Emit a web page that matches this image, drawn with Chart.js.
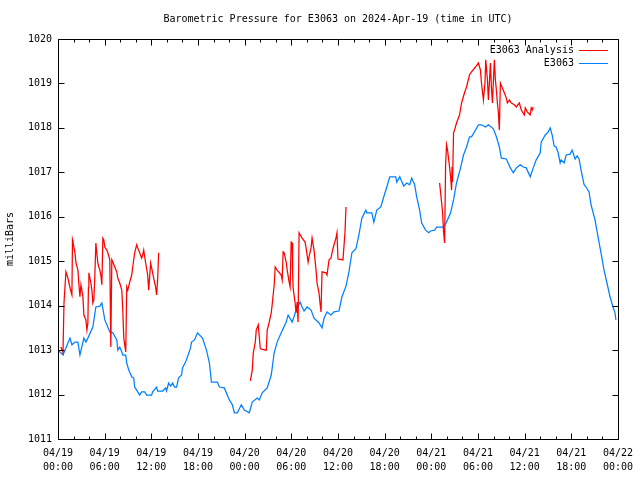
<!DOCTYPE html>
<html><head><meta charset="utf-8">
<script src="https://cdn.jsdelivr.net/npm/chart.js@4/dist/chart.umd.min.js"></script>
<style>html,body{margin:0;padding:0;background:#fff;overflow:hidden}</style>
</head><body><canvas id="c" width="640" height="480"></canvas>
<script>
const FONT = "'DejaVu Sans Mono', 'Liberation Mono', monospace";
const titleText = 'Barometric Pressure for E3063 on 2024-Apr-19 (time in UTC)';
const yAxisLabel = 'milliBars';
const seriesNames = ['E3063 Analysis', 'E3063'];
const seriesColors = ['#ff0000', '#0080ff'];

// x tick labels (hours since 04/19 00:00 UTC)
const majorTickHours = [0, 6, 12, 18, 24, 30, 36, 42, 48, 54, 60, 66, 72];
const tickDates = ['04/19','04/19','04/19','04/19','04/20','04/20','04/20','04/20','04/21','04/21','04/21','04/21','04/22'];
const tickTimes = ['00:00','06:00','12:00','18:00','00:00','06:00','12:00','18:00','00:00','06:00','12:00','18:00','00:00'];
const minorTickStepHours = 2;
const yTickValues = [1011,1012,1013,1014,1015,1016,1017,1018,1019,1020];

// E3063 observed (hours, mBar)
const obsHours = [0,0.64,1.02,1.54,1.79,2.18,2.56,2.82,3.33,3.59,
3.84,4.48,4.87,5.38,5.64,6.02,6.66,7.05,7.56,7.69,
7.94,8.20,8.33,8.71,8.84,9.10,9.48,9.74,9.86,10.12,
10.25,10.50,10.76,11.15,11.40,12.04,12.17,12.68,12.81,13.45,
13.84,13.96,14.22,14.48,14.73,14.99,15.25,15.50,15.89,16.01,
16.40,16.65,17.04,17.17,17.55,17.94,18.58,19.09,19.47,19.73,
20.50,20.75,21.39,22.03,22.42,22.68,23.06,23.57,23.96,24.60,
24.98,25.62,25.88,26.26,26.90,27.42,27.80,28.18,28.70,29.34,
29.59,30.11,30.62,31.13,31.39,31.64,32.03,32.54,32.92,33.56,
33.95,34.21,34.59,35.10,35.49,36.13,36.51,37.03,37.41,37.79,
38.31,38.69,39.07,39.59,39.71,40.35,40.61,40.99,41.51,41.89,
42.28,42.66,43.43,43.56,43.94,44.45,44.84,45.22,45.48,45.86,
46.12,46.50,46.76,47.27,47.66,47.91,48.43,48.68,49.58,49.96,
50.48,50.86,51.24,51.76,52.14,52.53,52.91,53.17,53.68,54.06,
54.45,54.96,55.34,55.98,56.37,56.75,57.01,57.65,58.16,58.55,
58.93,59.44,59.83,60.21,60.72,61.11,61.49,62.01,62.13,62.65,
63.03,63.29,63.54,63.80,64.05,64.31,64.57,64.70,65.08,65.34,
65.85,66.11,66.49,66.75,67.00,67.26,67.65,67.90,68.28,68.54,
69.05,69.44,69.82,70.21,70.59,70.98,71.36,71.62,71.74];
const obsValues = [1013.00,1012.89,1013.05,1013.27,1013.12,1013.18,1013.18,1012.89,1013.27,1013.18,
1013.27,1013.52,1013.97,1013.99,1014.06,1013.68,1013.41,1013.39,1013.23,1013.00,
1013.07,1012.96,1012.89,1012.89,1012.71,1012.55,1012.40,1012.37,1012.17,1012.10,
1012.06,1011.99,1012.06,1012.06,1011.99,1011.99,1012.06,1012.17,1012.08,1012.08,
1012.15,1012.08,1012.26,1012.19,1012.26,1012.17,1012.17,1012.37,1012.44,1012.60,
1012.73,1012.85,1013.05,1013.18,1013.23,1013.39,1013.27,1013.00,1012.71,1012.28,
1012.28,1012.17,1012.15,1011.88,1011.77,1011.59,1011.59,1011.77,1011.65,1011.59,
1011.83,1011.92,1011.88,1012.04,1012.15,1012.44,1012.94,1013.18,1013.39,1013.63,
1013.79,1013.63,1013.90,1014.08,1013.97,1013.88,1013.97,1013.90,1013.72,1013.61,
1013.50,1013.72,1013.86,1013.79,1013.86,1013.88,1014.20,1014.44,1014.76,1015.19,
1015.28,1015.59,1015.97,1016.15,1016.09,1016.09,1015.88,1016.15,1016.22,1016.45,
1016.67,1016.90,1016.90,1016.78,1016.90,1016.69,1016.76,1016.72,1016.87,1016.72,
1016.45,1016.15,1015.86,1015.70,1015.64,1015.68,1015.70,1015.77,1015.77,1015.88,
1016.09,1016.38,1016.76,1017.10,1017.39,1017.57,1017.80,1017.80,1017.95,1018.07,
1018.07,1018.02,1018.07,1017.98,1017.80,1017.57,1017.32,1017.30,1017.10,1016.99,
1017.10,1017.17,1017.12,1017.10,1016.90,1017.10,1017.28,1017.44,1017.68,1017.84,
1017.91,1018.00,1017.84,1017.59,1017.57,1017.44,1017.21,1017.28,1017.21,1017.39,
1017.41,1017.50,1017.30,1017.37,1017.30,1017.05,1016.72,1016.67,1016.56,1016.27,
1015.93,1015.55,1015.19,1014.80,1014.51,1014.20,1013.97,1013.84,1013.68];

// E3063 Analysis, three runs
const anaHours1 = [0.38,0.64,0.77,1.02,1.28,1.41,1.67,1.79,1.86,1.92,
2.18,2.31,2.56,2.69,2.82,2.95,3.07,3.20,3.33,3.59,
3.72,3.84,3.91,3.97,4.23,4.36,4.48,4.61,4.74,4.87,
4.99,5.12,5.25,5.38,5.51,5.64,5.77,5.89,6.02,6.28,
6.41,6.66,6.79,6.92,7.05,7.30,7.56,7.69,7.94,8.20,
8.33,8.46,8.71,8.84,8.97,9.22,9.48,9.61,9.86,10.12,
10.25,10.50,10.76,10.89,11.02,11.27,11.53,11.66,11.91,12.04,
12.30,12.55,12.68,12.81,12.94];
const anaValues1 = [1013.07,1012.94,1014.06,1014.76,1014.62,1014.51,1014.31,1014.24,1015.48,1015.43,
1015.19,1014.96,1014.80,1014.47,1014.20,1014.47,1014.35,1014.20,1013.79,1013.68,
1013.45,1013.61,1014.40,1014.74,1014.51,1014.35,1014.06,1014.13,1014.69,1015.41,
1015.19,1014.96,1014.87,1014.80,1014.69,1014.47,1015.52,1015.48,1015.32,1015.25,
1015.19,1015.03,1013.07,1015.03,1014.98,1014.87,1014.76,1014.62,1014.51,1014.35,
1013.90,1013.27,1012.96,1014.42,1014.35,1014.53,1014.69,1014.87,1015.19,1015.37,
1015.30,1015.19,1015.07,1015.14,1015.25,1014.96,1014.69,1014.35,1014.96,1014.85,
1014.62,1014.42,1014.24,1014.58,1015.19];
const anaHours2 = [24.73,24.98,25.11,25.37,25.49,25.75,25.88,26.01,26.78,26.90,
27.16,27.42,27.54,27.80,27.93,28.18,28.70,28.83,28.95,29.08,
29.34,29.47,29.72,29.85,29.98,30.11,30.17,30.23,30.49,30.62,
30.75,30.87,31.00,31.39,31.77,31.90,32.16,32.28,32.54,32.67,
32.92,33.18,33.31,33.56,33.69,33.82,33.95,34.46,34.59,34.85,
35.10,35.23,35.49,35.74,35.87,36.00,36.64,36.90,37.03];
const anaValues2 = [1012.31,1012.55,1012.94,1013.18,1013.45,1013.57,1013.30,1013.03,1013.00,1013.45,
1013.63,1013.84,1014.02,1014.47,1014.87,1014.80,1014.69,1014.58,1015.21,1015.19,
1014.98,1014.80,1014.53,1014.42,1015.43,1015.41,1014.74,1014.40,1014.06,1013.84,
1014.08,1013.63,1015.64,1015.52,1015.43,1015.30,1014.98,1015.10,1015.30,1015.52,
1015.25,1014.80,1014.51,1014.29,1014.06,1013.86,1014.76,1014.74,1014.69,1015.03,
1015.07,1015.19,1015.37,1015.52,1015.64,1015.05,1015.03,1015.64,1016.22];
const anaHours3 = [49.07,49.32,49.45,49.58,49.71,49.84,49.96,50.09,50.35,50.48,
50.61,50.67,50.73,50.86,50.99,51.24,51.63,51.89,52.27,52.53,
52.91,53.17,53.68,54.06,54.32,54.45,54.70,54.90,55.00,55.22,
55.34,55.47,55.60,55.73,55.86,56.11,56.24,56.37,56.50,56.62,
56.75,56.88,57.14,57.39,57.65,57.78,58.04,58.29,58.68,58.93,
59.32,59.57,59.96,60.08,60.34,60.72,60.85,60.98,61.11];
const anaValues3 = [1016.76,1016.33,1016.09,1015.66,1015.41,1017.17,1017.62,1017.50,1017.12,1016.90,
1016.60,1017.12,1016.78,1017.89,1017.95,1018.11,1018.29,1018.56,1018.79,1018.92,
1019.19,1019.26,1019.37,1019.46,1019.30,1019.01,1018.63,1019.01,1019.53,1019.08,
1018.63,1019.01,1019.46,1018.92,1018.56,1019.53,1019.08,1018.85,1018.56,1018.36,
1017.95,1019.01,1018.90,1018.79,1018.67,1018.56,1018.63,1018.56,1018.52,1018.47,
1018.56,1018.40,1018.29,1018.45,1018.36,1018.29,1018.45,1018.40,1018.47];

const pts = (hs, vs) => hs.map((h, i) => ({x: h, y: vs[i]}));
const gap = h => [{x: h, y: null}];
const analysisData = [].concat(pts(anaHours1, anaValues1), gap(18), pts(anaHours2, anaValues2), gap(43), pts(anaHours3, anaValues3));
const observedData = pts(obsHours, obsValues);

const MAJ = 6, MIN = 3;
const framePlugin = {
  id: 'frame',
  afterDraw(chart) {
    const {ctx, chartArea: a, scales: {x, y}} = chart;
    const L = Math.round(a.left) + 0.5, R = Math.round(a.right) + 0.5;
    const T = Math.round(a.top) + 0.5, B = Math.round(a.bottom) + 0.5;
    ctx.save();
    // title, centred over the plot area
    ctx.font = '10px ' + FONT;
    ctx.fillStyle = '#000'; ctx.textAlign = 'center'; ctx.textBaseline = 'middle';
    ctx.fillText(titleText, (a.left + a.right) / 2, 19);
    ctx.strokeStyle = '#000'; ctx.lineWidth = 1;
    ctx.beginPath();
    ctx.rect(L, T, R - L, B - T);
    yTickValues.forEach(v => {
      const py = Math.round(y.getPixelForValue(v)) + 0.5;
      ctx.moveTo(L, py); ctx.lineTo(L + MAJ, py);
      ctx.moveTo(R, py); ctx.lineTo(R - MAJ, py);
    });
    for (let h = x.min; h <= x.max; h += minorTickStepHours) {
      const px = Math.round(x.getPixelForValue(h)) + 0.5;
      const len = majorTickHours.includes(h) ? MAJ : MIN;
      ctx.moveTo(px, B); ctx.lineTo(px, B - len);
      ctx.moveTo(px, T); ctx.lineTo(px, T + len);
    }
    ctx.stroke();
    // legend (inside, top right)
    ctx.textAlign = 'right'; ctx.textBaseline = 'middle'; ctx.fillStyle = '#000';
    chart.data.datasets.forEach((ds, i) => {
      const ly = Math.round(a.top) + 11 + i * 13;
      ctx.fillText(ds.label, a.right - 44, ly);
      ctx.strokeStyle = ds.borderColor;
      ctx.beginPath();
      ctx.moveTo(a.right - 39, ly + 0.5); ctx.lineTo(a.right - 10, ly + 0.5);
      ctx.stroke();
    });
    ctx.restore();
  }
};

new Chart(document.getElementById('c').getContext('2d'), {
  type: 'line',
  data: {
    datasets: [
      {label: seriesNames[0], data: analysisData, borderColor: seriesColors[0], borderWidth: 1.25, pointRadius: 0, tension: 0, spanGaps: false},
      {label: seriesNames[1], data: observedData, borderColor: seriesColors[1], borderWidth: 1.25, pointRadius: 0, tension: 0}
    ]
  },
  options: {
    responsive: false, animation: false, devicePixelRatio: 1,
    layout: {padding: {left: 0, right: 20, top: 39, bottom: 0}},
    plugins: {
      legend: {display: false}, tooltip: {enabled: false}, title: {display: false}
    },
    scales: {
      x: {
        type: 'linear', min: 0, max: 72,
        afterBuildTicks: s => { s.ticks = majorTickHours.map(v => ({value: v})); },
        ticks: {autoSkip: false, maxRotation: 0, padding: 7, color: '#000',
          font: {family: FONT, size: 10, lineHeight: 1.4},
          callback: v => { const i = majorTickHours.indexOf(v); return [tickDates[i], tickTimes[i]]; }},
        grid: {display: false, drawTicks: false}, border: {display: false},
        afterFit: s => { s.height = 41; }
      },
      y: {
        min: 1011, max: 1020,
        afterBuildTicks: s => { s.ticks = yTickValues.map(v => ({value: v})); },
        ticks: {padding: 6, color: '#000', font: {family: FONT, size: 10}, callback: v => String(v)},
        grid: {display: false, drawTicks: false}, border: {display: false},
        title: {display: true, text: yAxisLabel, color: '#000', font: {family: FONT, size: 10, lineHeight: 1.2}, padding: {top: 4, bottom: 0}},
        afterFit: s => { s.width = 58; }
      }
    }
  },
  plugins: [framePlugin]
});
</script></body></html>
